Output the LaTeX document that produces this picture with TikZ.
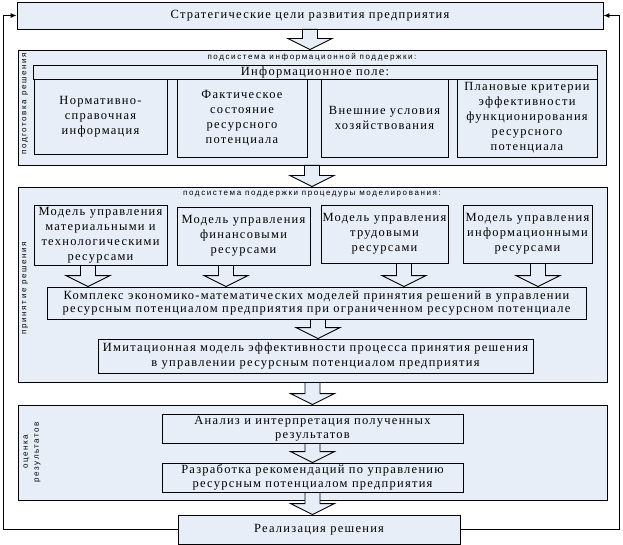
\documentclass[tikz,border=0pt]{standalone}
\usepackage{fontspec}
\setmainfont{Liberation Serif}[LetterSpace=10]
\newfontfamily\tagfont{Liberation Sans}[LetterSpace=20]
\usepackage{xcolor}
\usepackage{tikz}
\usetikzlibrary{arrows.meta, calc}
\definecolor{panelfill}{HTML}{E8EEF8}

\begin{document}
\begin{tikzpicture}[
  x=1pt, y=-1pt,
  panel/.style={draw, fill=panelfill, line width=0.9pt, inner sep=0pt},
  blk/.style={draw, fill=panelfill, line width=0.9pt, align=center, inner sep=0pt, font=\fontsize{12.5}{15}\selectfont},
  tag/.style={font=\tagfont\fontsize{8}{11}\selectfont, inner sep=0pt},
  sidetag/.style={tag, rotate=90, align=center},
  fb/.style={-{Latex[length=6pt,width=5pt]}, line width=0.9pt},
  blockarr/.style={fill=panelfill, line width=0.9pt, to path={
    let \p1=(\tikztostart), \p2=(\tikztotarget) in
    (\x1-7.5pt,\y1) -- (\x1-7.5pt,\y2+11pt) -- (\x1-22pt,\y2+11pt) -- (\x1,\y2)
    -- (\x1+22pt,\y2+11pt) -- (\x1+7.5pt,\y2+11pt) -- (\x1+7.5pt,\y1) -- cycle}}
]
\useasboundingbox (0,0) rectangle (623,545);

% goals
\node[blk, minimum width=586, minimum height=27] (goals) at (310,15.5) {Стратегические цели развития предприятия};

% information support
\node[panel, minimum width=588, minimum height=115] (prep) at (312,107.5) {};
\node[tag] (prepT) at (312,57) {подсистема информационной поддержки:};
\node[sidetag] (prepS) at (25,104) {подготовка решения};
\node[blk, minimum width=564, minimum height=14] (field) at (315,72) {Информационное поле:};
\node[blk, minimum width=133, minimum height=75] (norm) at (100.5,116.5) {Нормативно-\\справочная\\информация};
\node[blk, minimum width=130, minimum height=78] (fact) at (242,118) {Фактическое\\состояние\\ресурсного\\потенциала};
\node[blk, minimum width=127, minimum height=78] (ext) at (384.5,118) {Внешние условия\\хозяйствования};
\node[blk, minimum width=140, minimum height=78] (crit) at (527,118) {Плановые критерии\\эффективности\\функционирования\\ресурсного\\потенциала};

% modelling support
\node[panel, minimum width=589, minimum height=195] (dec) at (312.5,284.5) {};
\node[tag] (decT) at (312,194) {подсистема поддержки процедуры моделирования:};
\node[sidetag] (decS) at (25,288) {принятие решения};
\node[blk, minimum width=133, minimum height=60] (mat) at (100.5,235) {Модель управления\\материальными и\\технологическими\\ресурсами};
\node[blk, minimum width=133, minimum height=58] (fin) at (243.5,236) {Модель управления\\финансовыми\\ресурсами};
\node[blk, minimum width=127, minimum height=58] (lab) at (384.5,234) {Модель управления\\трудовыми\\ресурсами};
\node[blk, minimum width=129, minimum height=58] (inf) at (527.5,234) {Модель управления\\информационными\\ресурсами};
\node[blk, minimum width=539, minimum height=32, font=\fontsize{12.5}{13}\selectfont] (cplx) at (316.5,303) {Комплекс экономико-математических моделей принятия решений в управлении\\ресурсным потенциалом предприятия при ограниченном ресурсном потенциале};
\node[blk, minimum width=435, minimum height=34] (imit) at (315.5,356) {Имитационная модель эффективности процесса принятия решения\\в управлении ресурсным потенциалом предприятия};

% evaluation
\node[panel, minimum width=589, minimum height=95] (eval) at (312.5,452.5) {};
\node[sidetag] (evalS) at (32,452) {оценка\\результатов};
\node[blk, minimum width=301, minimum height=29, font=\fontsize{12.5}{14}\selectfont] (anal) at (312.5,428.5) {Анализ и интерпретация полученных\\результатов};
\node[blk, minimum width=301, minimum height=29, font=\fontsize{12.5}{14}\selectfont] (recs) at (312.5,477.5) {Разработка рекомендаций по управлению\\ресурсным потенциалом предприятия};

% realisation
\node[blk, minimum width=282, minimum height=29] (real) at (319,529.5) {Реализация решения};

% block arrows
\draw[blockarr] (goals.south) to (prep.north);
\draw[blockarr] (prep.south) to (dec.north);
\draw[blockarr] ([xshift=-12.5pt]mat.south) to (cplx.north);
\draw[blockarr] ([xshift=-17.5pt]fin.south) to (cplx.north);
\draw[blockarr] ([xshift=19.5pt]lab.south) to (cplx.north);
\draw[blockarr] ([xshift=10.5pt]inf.south) to (cplx.north);
\draw[blockarr] ([xshift=1.5pt]cplx.south) to (imit.north);
\draw[blockarr] (dec.south) to (eval.north);
\draw[blockarr] (anal.south) to (recs.north);
\draw[blockarr] (recs.south) to (real.north);

% feedback
\coordinate (fbL) at (3,0);
\coordinate (fbR) at (619,0);
\draw[fb] (real.west) -- (real.west -| fbL) |- (goals.west);
\draw[fb] (real.east) -- (real.east -| fbR) |- (goals.east);
\end{tikzpicture}
\end{document}
